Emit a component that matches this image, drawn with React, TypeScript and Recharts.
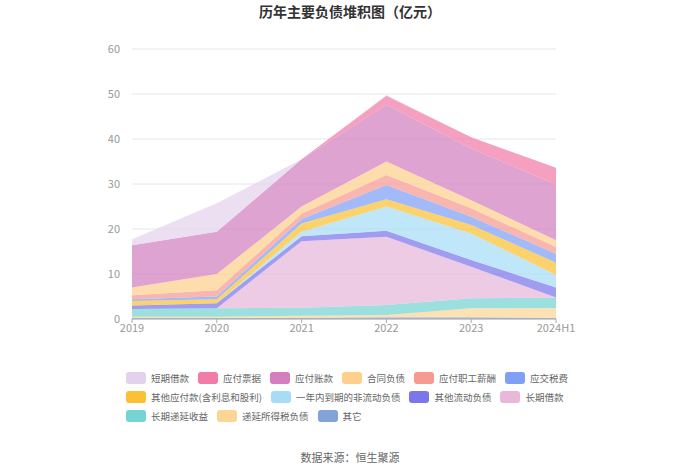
import React from 'react';
import { AreaChart, Area, XAxis, YAxis, CartesianGrid } from 'recharts';

// 亿元
const years = ['2019', '2020', '2021', '2022', '2023', '2024H1'];
const shortLoan = [1.3, 6.3, 0, 0.2, 0, 0];
const notesPayable = [0, 0, 0, 2.0, 2.5, 3.7];
const accountsPayable = [9.4, 9.4, 10.5, 12.6, 11.5, 12.4];
const contractLiab = [1.7, 3.6, 1.6, 3.0, 1.8, 1.5];
const payroll = [0.9, 1.4, 1.2, 2.2, 1.9, 1.5];
const taxes = [0.4, 0.6, 1.0, 3.2, 1.8, 2.0];
const otherPayables = [1.0, 0.9, 1.8, 1.6, 1.9, 2.7];
const dueWithinYear = [0, 0, 1.0, 5.4, 5.9, 2.8];
const otherCurrent = [0.8, 1.1, 1.1, 1.3, 1.5, 2.2];
const longLoan = [0, 0, 14.8, 15.2, 7.0, 0.1];
const deferredIncome = [1.7, 1.9, 1.8, 2.2, 2.2, 2.3];
const deferredTax = [0.3, 0.3, 0.4, 0.5, 2.0, 2.2];
const others = [0.2, 0.2, 0.3, 0.4, 0.4, 0.2];

const yTicks = [0, 10, 20, 30, 40, 50, 60];

// legend order (top of stack first)
const series = [
  { key: 'shortLoan', name: '短期借款', color: '#e3d2eb', values: shortLoan },
  { key: 'notesPayable', name: '应付票据', color: '#f27ca8', values: notesPayable },
  { key: 'accountsPayable', name: '应付账款', color: '#d37fbf', values: accountsPayable },
  { key: 'contractLiab', name: '合同负债', color: '#fdd08c', values: contractLiab },
  { key: 'payroll', name: '应付职工薪酬', color: '#f79a92', values: payroll },
  { key: 'taxes', name: '应交税费', color: '#80a0f5', values: taxes },
  { key: 'otherPayables', name: '其他应付款(含利息和股利)', color: '#fbc033', values: otherPayables },
  { key: 'dueWithinYear', name: '一年内到期的非流动负债', color: '#a8dcf6', values: dueWithinYear },
  { key: 'otherCurrent', name: '其他流动负债', color: '#7b76ea', values: otherCurrent },
  { key: 'longLoan', name: '长期借款', color: '#e8b7da', values: longLoan },
  { key: 'deferredIncome', name: '长期递延收益', color: '#76d3d3', values: deferredIncome },
  { key: 'deferredTax', name: '递延所得税负债', color: '#fdd594', values: deferredTax },
  { key: 'others', name: '其它', color: '#80a4d8', values: others },
];

const chartData = years.map((year, i) => {
  const row: Record<string, string | number> = { year };
  series.forEach((s) => {
    row[s.key] = s.values[i];
  });
  return row;
});

const font = '"Noto Sans CJK SC", "Noto Sans", sans-serif';

const App: React.FC = () => {
  const stackOrder = [...series].reverse();

  return (
    <div style={{ position: 'absolute', left: 0, top: 0, width: 700, height: 474, background: '#fff', fontFamily: font }}>
      <div style={{ position: 'absolute', top: 1, width: 700, textAlign: 'center', fontSize: 14, fontWeight: 'bold', color: '#333' }}>
        历年主要负债堆积图（亿元）
      </div>
      <AreaChart
        width={700}
        height={474}
        data={chartData}
        margin={{ top: 49, right: 144, bottom: 125, left: 92 }}
      >
        <CartesianGrid vertical={false} stroke="#e6e6ee" />
        <XAxis
          dataKey="year"
          stroke="#aaa"
          tick={{ fill: '#999', fontSize: 11, fontFamily: font }}
          tickSize={4}
          tickMargin={1}
          height={30}
        />
        <YAxis
          domain={[0, 60]}
          ticks={yTicks}
          width={40}
          axisLine={false}
          tickLine={false}
          tickMargin={6}
          tick={{ fill: '#999', fontSize: 11, fontFamily: font }}
        />
        {stackOrder.map((s) => (
          <Area
            key={s.key}
            type="linear"
            dataKey={s.key}
            name={s.name}
            stackId="1"
            stroke="none"
            fill={s.color}
            fillOpacity={0.72}
            isAnimationActive={false}
          />
        ))}
      </AreaChart>
      <div
        style={{
          position: 'absolute',
          left: 126,
          top: 372,
          width: 455,
          display: 'flex',
          flexWrap: 'wrap',
          columnGap: 9,
          rowGap: 7,
          fontSize: 9.5,
          color: '#666',
        }}
      >
        {series.map((s) => (
          <div key={s.key} style={{ display: 'flex', alignItems: 'center', height: 12, whiteSpace: 'nowrap' }}>
            <span style={{ display: 'inline-block', width: 20, height: 12, borderRadius: 3, background: s.color, marginRight: 5 }} />
            <span>{s.name}</span>
          </div>
        ))}
      </div>
      <div style={{ position: 'absolute', top: 449, width: 700, textAlign: 'center', fontSize: 11, color: '#666' }}>
        数据来源：恒生聚源
      </div>
    </div>
  );
};

export default App;
